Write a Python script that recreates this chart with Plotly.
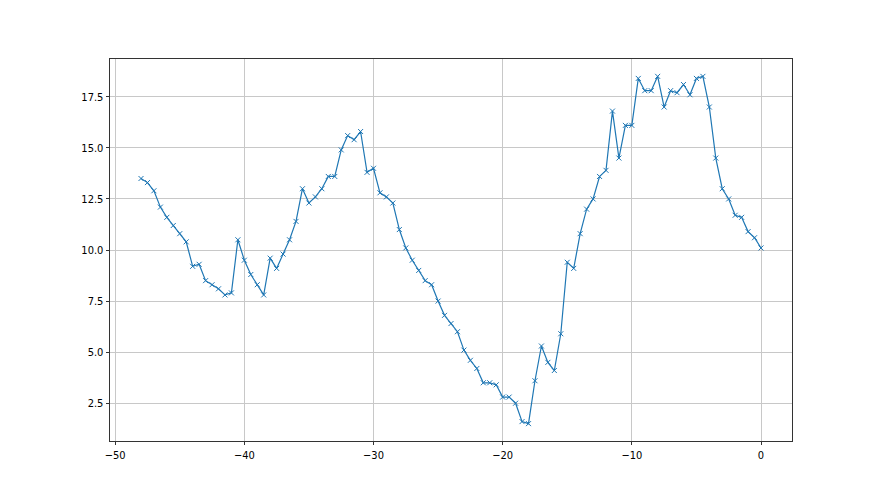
import plotly.graph_objects as go

x_values = [i * 0.5 for i in range(-96, 1)]
y_values = [
    13.5, 13.3, 12.9, 12.1, 11.6, 11.2, 10.8, 10.4, 9.2, 9.3,
    8.5, 8.3, 8.1, 7.8, 7.9, 10.5, 9.5, 8.8, 8.3, 7.8,
    9.6, 9.1, 9.8, 10.5, 11.4, 13.0, 12.3, 12.6, 13.0, 13.6,
    13.6, 14.9, 15.6, 15.4, 15.8, 13.8, 14.0, 12.8, 12.6, 12.3,
    11.0, 10.1, 9.5, 9.0, 8.5, 8.3, 7.5, 6.8, 6.4, 6.0,
    5.1, 4.6, 4.2, 3.5, 3.5, 3.4, 2.8, 2.8, 2.5, 1.6,
    1.5, 3.6, 5.3, 4.5, 4.1, 5.9, 9.4, 9.1, 10.8, 12.0,
    12.5, 13.6, 13.9, 16.8, 14.5, 16.1, 16.1, 18.4, 17.8, 17.8,
    18.5, 17.0, 17.8, 17.7, 18.1, 17.6, 18.4, 18.5, 17.0, 14.5,
    13.0, 12.5, 11.7, 11.6, 10.9, 10.6, 10.1,
]
x_ticks = [-50, -40, -30, -20, -10, 0]
y_ticks = [2.5, 5.0, 7.5, 10.0, 12.5, 15.0, 17.5]

fig = go.Figure()
fig.add_trace(go.Scatter(
    x=x_values, y=y_values, mode="lines+markers",
    line=dict(color="#1f77b4", width=1.2),
    marker=dict(symbol="x-thin", size=5, color="#1f77b4",
                line=dict(color="#1f77b4", width=1)),
    showlegend=False,
))

xmin, xmax = min(x_values), max(x_values)
ymin, ymax = min(y_values), max(y_values)
xp = (xmax - xmin) * 0.05
yp = (ymax - ymin) * 0.05

axis_common = dict(
    showgrid=True, gridcolor="#c8c8c8", gridwidth=0.8,
    showline=True, linecolor="#333333", linewidth=0.8, mirror=True,
    ticks="outside", ticklen=3.5, tickwidth=0.8, tickcolor="#333333",
    zeroline=False,
    tickfont=dict(family="Liberation Sans Narrow, DejaVu Sans Condensed, DejaVu Sans",
                  size=11, color="black"),
)

fig.update_layout(
    width=872, height=487,
    margin=dict(l=102, r=88, t=51, b=54),
    paper_bgcolor="white", plot_bgcolor="white",
    xaxis=dict(range=[xmin - xp, xmax + xp], tickvals=x_ticks, **axis_common),
    yaxis=dict(range=[ymin - yp, ymax + yp], tickvals=y_ticks,
               tickformat=".1f", **axis_common),
)

fig.write_html("out.html")
